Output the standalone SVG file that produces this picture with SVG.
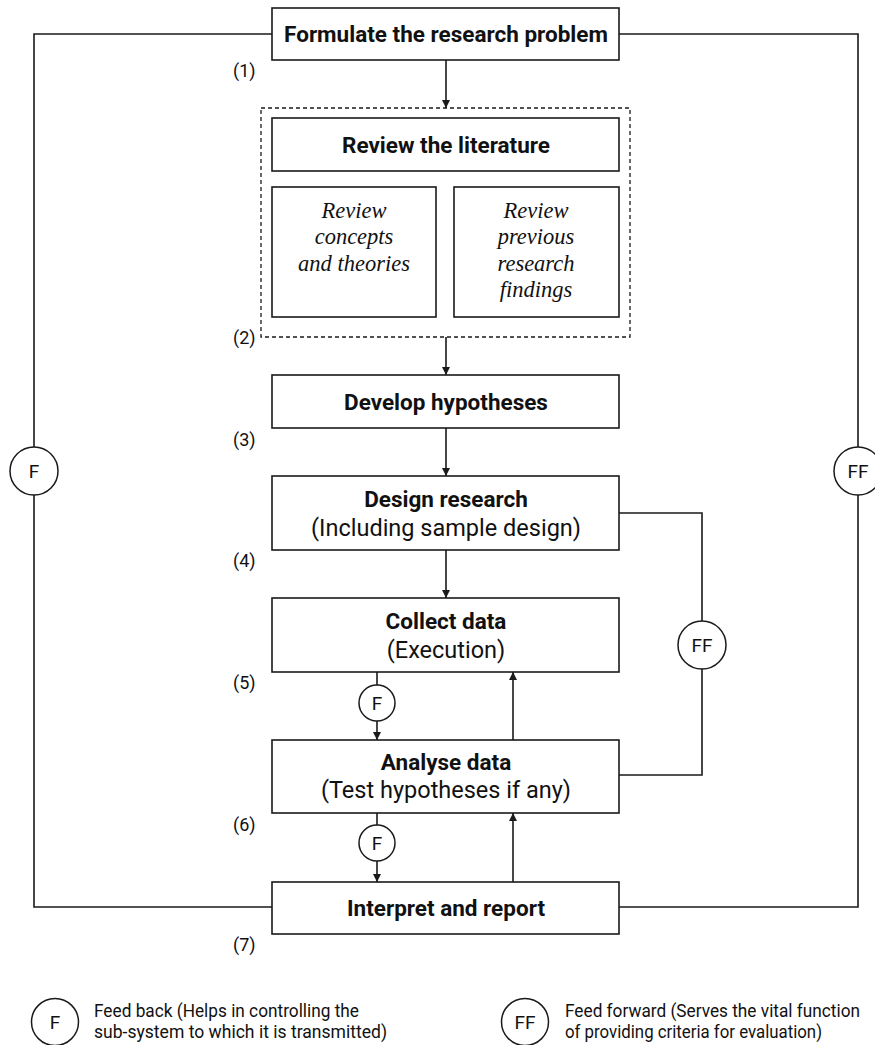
<svg xmlns="http://www.w3.org/2000/svg" width="875" height="1045" viewBox="0 0 875 1045">
  <style>
    .box { fill: #fff; stroke: #1a1a1a; stroke-width: 1.6; }
    .dash { fill: none; stroke: #1a1a1a; stroke-width: 1.3; stroke-dasharray: 4 3; }
    .ln { fill: none; stroke: #1a1a1a; stroke-width: 1.6; }
    .ring { fill: #fff; stroke: #1a1a1a; stroke-width: 1.5; }
    .title { font-family: Roboto, "Liberation Sans", sans-serif; font-weight: 700; font-size: 22.5px; fill: #111; text-anchor: middle; }
    .sub { font-family: Roboto, "Liberation Sans", sans-serif; font-size: 23.5px; fill: #111; text-anchor: middle; }
    .it { font-family: "Liberation Serif", serif; font-style: italic; font-size: 22.5px; fill: #111; text-anchor: middle; }
    .num { font-family: Roboto, "Liberation Sans", sans-serif; font-size: 18px; fill: #111; }
    .tag { font-family: Roboto, "Liberation Sans", sans-serif; font-size: 19px; fill: #111; text-anchor: middle; }
    .leg { font-family: Roboto, "Liberation Sans", sans-serif; font-size: 18px; fill: #111; }
  </style>
  <defs>
    <marker id="arrow" viewBox="0 0 8 8" refX="8" refY="4" markerWidth="8" markerHeight="8" markerUnits="userSpaceOnUse" orient="auto">
      <path d="M0,0 L8,4 L0,8 z" fill="#1a1a1a"/>
    </marker>
  </defs>

  <!-- connectors -->
  <g id="connectors">
    <!-- outer feedback loop (left) and feed-forward loop (right) -->
    <polyline class="ln" points="272,34 34,34 34,907 272,907"/>
    <polyline class="ln" points="619,34 858,34 858,907 619,907"/>
    <!-- main flow -->
    <line class="ln" x1="446" y1="60" x2="446" y2="108" marker-end="url(#arrow)"/>
    <line class="ln" x1="446" y1="337" x2="446" y2="375" marker-end="url(#arrow)"/>
    <line class="ln" x1="446" y1="428" x2="446" y2="476" marker-end="url(#arrow)"/>
    <line class="ln" x1="446" y1="550" x2="446" y2="598" marker-end="url(#arrow)"/>
    <!-- collect -> analyse via F -->
    <line class="ln" x1="377" y1="672" x2="377" y2="740" marker-end="url(#arrow)"/>
    <line class="ln" x1="513" y1="740" x2="513" y2="672" marker-end="url(#arrow)"/>
    <!-- analyse -> interpret via F -->
    <line class="ln" x1="377" y1="813" x2="377" y2="882" marker-end="url(#arrow)"/>
    <line class="ln" x1="513" y1="882" x2="513" y2="813" marker-end="url(#arrow)"/>
    <!-- design <-> analyse feed-forward -->
    <polyline class="ln" points="619,513 702,513 702,775 619,775"/>
  </g>

  <!-- loop markers -->
  <g id="loop-f-outer">
    <circle class="ring" cx="34" cy="471" r="24"/>
    <text class="tag" x="34" y="478">F</text>
  </g>
  <g id="loop-ff-outer">
    <circle class="ring" cx="858" cy="471" r="24"/>
    <text class="tag" x="858" y="478">FF</text>
  </g>
  <g id="loop-ff-inner">
    <circle class="ring" cx="702" cy="645" r="24"/>
    <text class="tag" x="702" y="652">FF</text>
  </g>
  <g id="loop-f-5">
    <circle class="ring" cx="377" cy="703" r="18"/>
    <text class="tag" x="377" y="710">F</text>
  </g>
  <g id="loop-f-6">
    <circle class="ring" cx="377" cy="843" r="18"/>
    <text class="tag" x="377" y="850">F</text>
  </g>

  <!-- step 1 -->
  <g id="formulate">
    <rect class="box" x="272" y="8" width="347" height="52"/>
    <text class="title" x="446" y="42">Formulate the research problem</text>
  </g>

  <!-- step 2 -->
  <g id="review">
    <rect class="dash" x="261" y="108" width="369" height="229"/>
    <rect class="box" x="272" y="118" width="347" height="53"/>
    <text class="title" x="446" y="153">Review the literature</text>
  </g>
  <g id="review-concepts">
    <rect class="box" x="272" y="187" width="164" height="130"/>
    <text class="it" x="354" y="218">Review</text>
    <text class="it" x="354" y="244">concepts</text>
    <text class="it" x="354" y="271">and theories</text>
  </g>
  <g id="review-findings">
    <rect class="box" x="454" y="187" width="165" height="130"/>
    <text class="it" x="536" y="218">Review</text>
    <text class="it" x="536" y="244">previous</text>
    <text class="it" x="536" y="271">research</text>
    <text class="it" x="536" y="297">findings</text>
  </g>

  <!-- step 3 -->
  <g id="hypotheses">
    <rect class="box" x="272" y="375" width="347" height="53"/>
    <text class="title" x="446" y="410">Develop hypotheses</text>
  </g>

  <!-- step 4 -->
  <g id="design">
    <rect class="box" x="272" y="476" width="347" height="74"/>
    <text class="title" x="446" y="507">Design research</text>
    <text class="sub" x="446" y="536">(Including sample design)</text>
  </g>

  <!-- step 5 -->
  <g id="collect">
    <rect class="box" x="272" y="598" width="347" height="74"/>
    <text class="title" x="446" y="629">Collect data</text>
    <text class="sub" x="446" y="658">(Execution)</text>
  </g>

  <!-- step 6 -->
  <g id="analyse">
    <rect class="box" x="272" y="740" width="347" height="73"/>
    <text class="title" x="446" y="770">Analyse data</text>
    <text class="sub" x="446" y="798">(Test hypotheses if any)</text>
  </g>

  <!-- step 7 -->
  <g id="interpret">
    <rect class="box" x="272" y="882" width="347" height="52"/>
    <text class="title" x="446" y="916">Interpret and report</text>
  </g>

  <!-- step numbers -->
  <g id="step-numbers">
    <text class="num" x="233" y="77">(1)</text>
    <text class="num" x="233" y="344">(2)</text>
    <text class="num" x="233" y="446">(3)</text>
    <text class="num" x="233" y="567">(4)</text>
    <text class="num" x="233" y="689">(5)</text>
    <text class="num" x="233" y="831">(6)</text>
    <text class="num" x="233" y="951">(7)</text>
  </g>

  <!-- legend -->
  <g id="legend-f">
    <circle class="ring" cx="55" cy="1022" r="23.5"/>
    <text class="tag" x="55" y="1029">F</text>
    <text class="leg" x="94" y="1017" textLength="265" lengthAdjust="spacingAndGlyphs">Feed back (Helps in controlling the</text>
    <text class="leg" x="94" y="1038" textLength="293" lengthAdjust="spacingAndGlyphs">sub-system to which it is transmitted)</text>
  </g>
  <g id="legend-ff">
    <circle class="ring" cx="525" cy="1022" r="23.5"/>
    <text class="tag" x="525" y="1029">FF</text>
    <text class="leg" x="565" y="1017" textLength="295" lengthAdjust="spacingAndGlyphs">Feed forward (Serves the vital function</text>
    <text class="leg" x="565" y="1038" textLength="257" lengthAdjust="spacingAndGlyphs">of providing criteria for evaluation)</text>
  </g>
</svg>
